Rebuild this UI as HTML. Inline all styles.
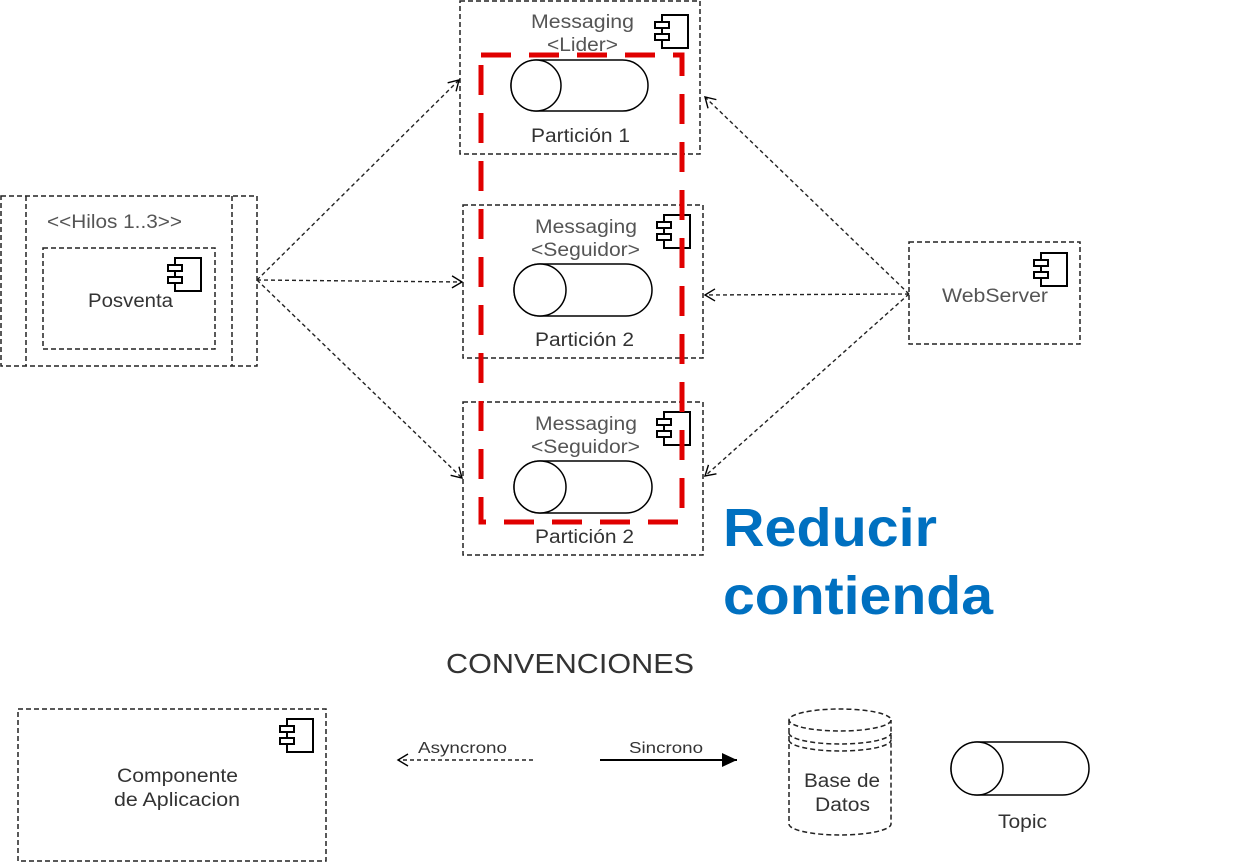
<!DOCTYPE html>
<html><head><meta charset="utf-8"><style>
html,body{margin:0;padding:0;background:#fff;}
svg{display:block;font-family:"Liberation Sans",sans-serif;}
</style></head><body>
<svg width="1239" height="863" viewBox="0 0 1239 863" xmlns="http://www.w3.org/2000/svg">
<defs>
<symbol id="ic" viewBox="0 0 36 36">
<rect x="8" y="1" width="26" height="33" fill="#fff" stroke="#000" stroke-width="2"/>
<rect x="1" y="8" width="14" height="6" fill="#fff" stroke="#000" stroke-width="2"/>
<rect x="1" y="20" width="14" height="6" fill="#fff" stroke="#000" stroke-width="2"/>
</symbol>
<marker id="oa" markerWidth="14" markerHeight="14" refX="11" refY="7" orient="auto" markerUnits="userSpaceOnUse">
<path d="M1,1 L11,7 L1,13" fill="none" stroke="#000" stroke-width="1.4"/>
</marker>
<marker id="fa" markerWidth="16" markerHeight="14" refX="15" refY="7" orient="auto" markerUnits="userSpaceOnUse">
<path d="M0,0 L15,7 L0,14 z" fill="#000"/>
</marker>
</defs>
<g fill="none" stroke="#222" stroke-width="1.5" stroke-dasharray="5,3">
<rect x="460" y="1" width="240" height="153"/>
<rect x="463" y="205" width="240" height="153"/>
<rect x="463" y="402" width="240" height="153"/>
<rect x="1" y="196" width="256" height="170"/>
<line x1="26" y1="196" x2="26" y2="366"/>
<line x1="232" y1="196" x2="232" y2="366"/>
<rect x="43" y="248" width="172" height="101"/>
<rect x="909" y="242" width="171" height="102"/>
<rect x="18" y="709" width="308" height="152"/>
</g>
<use href="#ic" x="654" y="14" width="36" height="36"/>
<use href="#ic" x="656" y="214" width="36" height="36"/>
<use href="#ic" x="656" y="411" width="36" height="36"/>
<use href="#ic" x="167" y="257" width="36" height="36"/>
<use href="#ic" x="1033" y="252" width="36" height="36"/>
<use href="#ic" x="279" y="718" width="36" height="36"/>
<g fill="#fff" stroke="#000" stroke-width="1.5">
<rect x="511" y="60" width="137" height="51" rx="25.5"/><ellipse cx="536" cy="85.5" rx="25" ry="25.5"/>
<rect x="514" y="264" width="138" height="52" rx="26"/><ellipse cx="540" cy="290" rx="26" ry="26"/>
<rect x="514" y="461" width="138" height="52" rx="26"/><ellipse cx="540" cy="487" rx="26" ry="26"/>
<rect x="951" y="742" width="138" height="53" rx="26.5"/><ellipse cx="977" cy="768.5" rx="26" ry="26.5"/>
</g>
<rect x="481" y="55" width="201" height="467" fill="none" stroke="#e00000" stroke-width="5" stroke-dasharray="30,18"/>
<g font-size="19" fill="#555" lengthAdjust="spacingAndGlyphs">
<text x="531" y="28" textLength="103" lengthAdjust="spacingAndGlyphs">Messaging</text>
<text x="547" y="51" textLength="71" lengthAdjust="spacingAndGlyphs">&lt;Lider&gt;</text>
<text x="531" y="142" fill="#333" textLength="99" lengthAdjust="spacingAndGlyphs">Partición 1</text>
<text x="535" y="233" textLength="102" lengthAdjust="spacingAndGlyphs">Messaging</text>
<text x="531" y="256" textLength="109" lengthAdjust="spacingAndGlyphs">&lt;Seguidor&gt;</text>
<text x="535" y="346" fill="#333" textLength="99" lengthAdjust="spacingAndGlyphs">Partición 2</text>
<text x="535" y="430" textLength="102" lengthAdjust="spacingAndGlyphs">Messaging</text>
<text x="531" y="453" textLength="109" lengthAdjust="spacingAndGlyphs">&lt;Seguidor&gt;</text>
<text x="535" y="543" fill="#333" textLength="99" lengthAdjust="spacingAndGlyphs">Partición 2</text>
<text x="47" y="228" textLength="135" lengthAdjust="spacingAndGlyphs">&lt;&lt;Hilos 1..3&gt;&gt;</text>
<text x="88" y="307" fill="#333" textLength="85" lengthAdjust="spacingAndGlyphs">Posventa</text>
<text x="942" y="302" textLength="106" lengthAdjust="spacingAndGlyphs">WebServer</text>
<text x="117" y="782" fill="#333" textLength="121" lengthAdjust="spacingAndGlyphs">Componente</text>
<text x="114" y="806" fill="#333" textLength="126" lengthAdjust="spacingAndGlyphs">de Aplicacion</text>
<text x="804" y="787" fill="#333" textLength="76" lengthAdjust="spacingAndGlyphs">Base de</text>
<text x="815" y="811" fill="#333" textLength="55" lengthAdjust="spacingAndGlyphs">Datos</text>
<text x="998" y="828" fill="#333" textLength="49" lengthAdjust="spacingAndGlyphs">Topic</text>
</g>
<g fill="none" stroke="#222" stroke-width="1.4" stroke-dasharray="4,3" marker-end="url(#oa)">
<line x1="257" y1="280" x2="459" y2="80"/>
<line x1="257" y1="280" x2="462" y2="282"/>
<line x1="257" y1="280" x2="462" y2="478"/>
<line x1="909" y1="294" x2="705" y2="97"/>
<line x1="909" y1="294" x2="705" y2="295"/>
<line x1="909" y1="294" x2="705" y2="476"/>
<line x1="533" y1="760" x2="398" y2="760"/>
</g>
<line x1="600" y1="760" x2="737" y2="760" stroke="#000" stroke-width="2" marker-end="url(#fa)"/>
<g font-size="16" fill="#333">
<text x="418" y="753" textLength="89" lengthAdjust="spacingAndGlyphs">Asyncrono</text>
<text x="629" y="753" textLength="74" lengthAdjust="spacingAndGlyphs">Sincrono</text>
</g>
<g fill="none" stroke="#222" stroke-width="1.5" stroke-dasharray="5,3">
<path d="M789,720 L789,824 A51,11 0 0 0 891,824 L891,720"/>
<ellipse cx="840" cy="720" rx="51" ry="11"/>
<path d="M789,733 A51,11 0 0 0 891,733"/>
<path d="M789,740 A51,11 0 0 0 891,740"/>
</g>
<text x="446" y="673" font-size="28" fill="#333" textLength="248" lengthAdjust="spacingAndGlyphs">CONVENCIONES</text>
<g font-size="54" font-weight="bold" fill="#0070c0">
<text x="723" y="546" textLength="214" lengthAdjust="spacingAndGlyphs">Reducir</text>
<text x="723" y="614" textLength="270" lengthAdjust="spacingAndGlyphs">contienda</text>
</g>
</svg>
</body></html>
